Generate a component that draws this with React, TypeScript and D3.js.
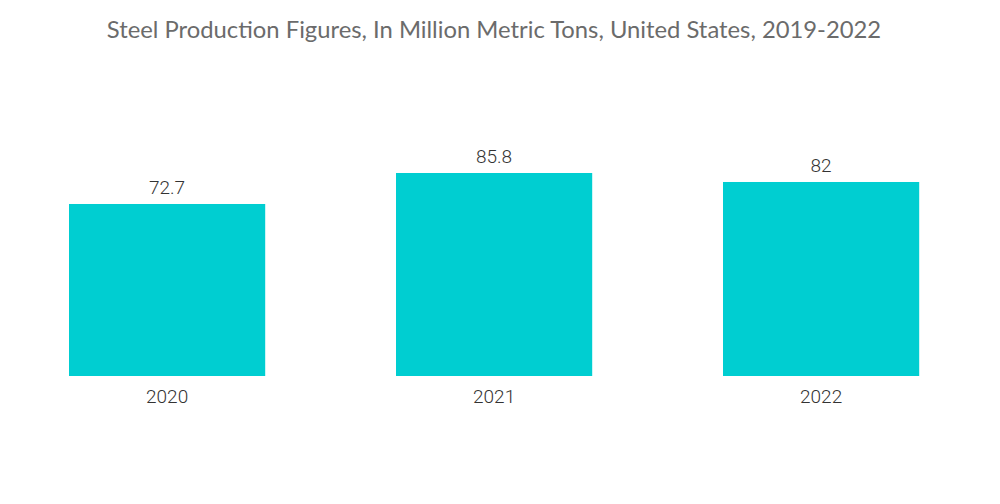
import React from "react";
import * as d3 from "d3";

const categories = ["2020", "2021", "2022"];
const values = [72.7, 85.8, 82];
const valueLabels = ["72.7", "85.8", "82"];
const title = "Steel Production Figures, In Million Metric Tons, United States, 2019-2022";

export default function App() {
  const W = 1000, H = 504;
  const baseline = 376;
  const x = d3.scaleBand<string>().domain(categories).range([3.6, 984.6]).paddingInner(0.4).paddingOuter(0.2);
  const y = d3.scaleLinear().domain([0, 100]).range([baseline, baseline - 236.6]);
  return (
    <svg width={W} height={H} style={{ position: "absolute", left: 0, top: 0, background: "#fff" }}>
      <text x={494} y={38} textAnchor="middle" fontFamily="Lato, 'Noto Sans', sans-serif" fontSize={23.8} fill="#6b6b6b">{title}</text>
      {categories.map((c, i) => (
        <g key={c}>
          <rect x={x(c)} y={y(values[i])} width={x.bandwidth()} height={baseline - y(values[i])} fill="#00CED1" />
          <text x={(x(c) as number) + x.bandwidth() / 2} y={y(values[i]) - 10} textAnchor="middle" fontFamily="Roboto, sans-serif" fontWeight={300} fontSize={19} fill="#333">{valueLabels[i]}</text>
          <text x={(x(c) as number) + x.bandwidth() / 2} y={403} textAnchor="middle" fontFamily="Roboto, sans-serif" fontWeight={300} fontSize={19} fill="#333">{c}</text>
        </g>
      ))}
    </svg>
  );
}
